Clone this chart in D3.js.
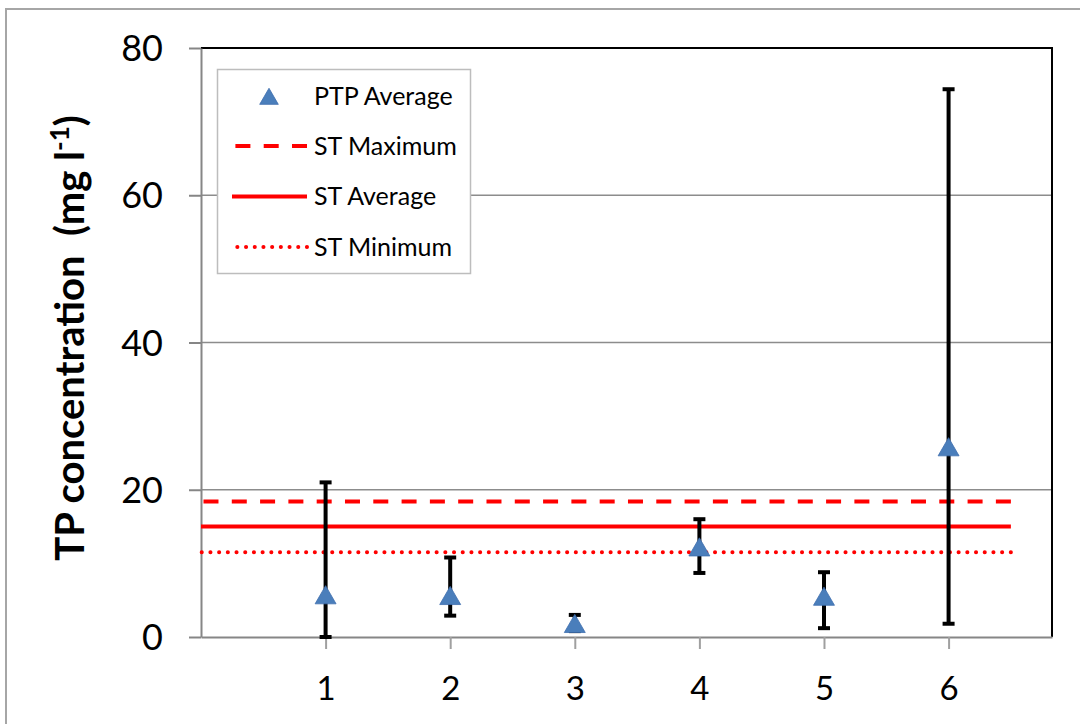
<!DOCTYPE html>
<html>
<head>
  <meta charset="utf-8">
  <title>TP concentration</title>
  <style>
    body { margin: 0; background: #fff; }
    svg text { font-family: Lato, "Open Sans", sans-serif; }
  </style>
</head>
<body>
  <svg width="1080" height="724"></svg>
  <script src="https://d3js.org/d3.v7.min.js"></script>
  <script>

  // data
  var sites = [1, 2, 3, 4, 5, 6];
  var ptpAverage = [5.6, 5.5, 1.7, 12.1, 5.4, 25.7];
  var ptpMax = [21.0, 10.8, 3.0, 16.0, 8.8, 74.4];
  var ptpMin = [0.0, 2.9, 0.8, 8.7, 1.2, 1.8];
  var stMaximum = 18.4;
  var stAverage = 15.0;
  var stMinimum = 11.5;
  var yTicks = [0, 20, 40, 60, 80];

  var svg = d3.select("svg");

  // outer chart border (runs off the right / bottom edge)
  svg.append("rect")
    .attr("x", 6).attr("y", 9)
    .attr("width", 1200).attr("height", 900)
    .attr("fill", "none")
    .attr("stroke", "#a6a6a6")
    .attr("stroke-width", 2);

  var pLeft = 201, pRight = 1052, pTop = 48, pBottom = 637;

  var x = d3.scaleLinear().domain([0, 6.83]).range([pLeft, pRight]);
  var y = d3.scaleLinear().domain([0, 80]).range([pBottom, pTop]);

  // gridlines
  svg.append("g")
    .selectAll("line")
    .data([20, 40, 60])
    .enter().append("line")
    .attr("x1", pLeft).attr("x2", pRight)
    .attr("y1", function(d) { return y(d); })
    .attr("y2", function(d) { return y(d); })
    .attr("stroke", "#8c8c8c")
    .attr("stroke-width", 1.5);

  // plot border: top and right black
  svg.append("path")
    .attr("d", "M" + pLeft + "," + pTop + "H" + pRight + "V" + pBottom)
    .attr("fill", "none")
    .attr("stroke", "#000")
    .attr("stroke-width", 2);

  // y axis
  var yAxis = svg.append("g")
    .attr("transform", "translate(" + pLeft + ",0)")
    .call(d3.axisLeft(y).tickValues(yTicks).tickSize(12).tickSizeOuter(0).tickPadding(26));
  yAxis.select(".domain").attr("stroke", "#868686").attr("stroke-width", 2);
  yAxis.selectAll(".tick line").attr("stroke", "#868686").attr("stroke-width", 2);
  yAxis.selectAll("text")
    .attr("font-size", 36)
    .attr("fill", "#000")
    .attr("dy", "0.35em")
    .style("font-family", "Lato, sans-serif");

  // x axis
  var xAxis = svg.append("g")
    .attr("transform", "translate(0," + pBottom + ")")
    .call(d3.axisBottom(x).tickValues(sites).tickFormat(d3.format("d")).tickSize(12).tickSizeOuter(0).tickPadding(28));
  xAxis.select(".domain").attr("stroke", "#868686").attr("stroke-width", 2);
  xAxis.selectAll(".tick line").attr("stroke", "#a0a0a0").attr("stroke-width", 2);
  xAxis.selectAll("text")
    .attr("font-size", 33)
    .attr("fill", "#000")
    .style("font-family", "Lato, sans-serif");

  // ST reference lines (drawn right-to-left so the dash pattern ends flush)
  var stLines = [
    { name: "ST Maximum", value: stMaximum, dash: "15,13.3", cap: "butt" },
    { name: "ST Average", value: stAverage, dash: null, cap: "butt" },
    { name: "ST Minimum", value: stMinimum, dash: "0.1,8.6", cap: "round" }
  ];
  svg.append("g")
    .selectAll("line")
    .data(stLines)
    .enter().append("line")
    .attr("x1", x(6.5)).attr("x2", x(0))
    .attr("y1", function(d) { return y(d.value); })
    .attr("y2", function(d) { return y(d.value); })
    .attr("stroke", "#ff0000")
    .attr("stroke-width", 4)
    .attr("stroke-linecap", function(d) { return d.cap; })
    .attr("stroke-dasharray", function(d) { return d.dash; });

  // error bars
  var pts = sites.map(function(s, i) {
    return { site: s, avg: ptpAverage[i], hi: ptpMax[i], lo: ptpMin[i] };
  });
  var eb = svg.append("g").selectAll("g").data(pts).enter().append("g");
  eb.append("line")
    .attr("x1", function(d) { return x(d.site); })
    .attr("x2", function(d) { return x(d.site); })
    .attr("y1", function(d) { return y(d.hi); })
    .attr("y2", function(d) { return y(d.lo); })
    .attr("stroke", "#000").attr("stroke-width", 4);
  eb.selectAll(".cap")
    .data(function(d) { return [{ s: d.site, v: d.hi }, { s: d.site, v: d.lo }]; })
    .enter().append("line")
    .attr("class", "cap")
    .attr("x1", function(d) { return x(d.s) - 6; })
    .attr("x2", function(d) { return x(d.s) + 6; })
    .attr("y1", function(d) { return y(d.v); })
    .attr("y2", function(d) { return y(d.v); })
    .attr("stroke", "#000").attr("stroke-width", 4);

  // triangle markers
  var tri = d3.symbol().type(d3.symbolTriangle).size(190);
  svg.append("g")
    .selectAll("path")
    .data(pts)
    .enter().append("path")
    .attr("d", tri)
    .attr("transform", function(d) { return "translate(" + x(d.site) + "," + (y(d.avg) + 2) + ")"; })
    .attr("fill", "#4a7ebb")
    .attr("stroke", "#3f6fae")
    .attr("stroke-width", 0.8);

  // legend
  var lg = svg.append("g");
  lg.append("rect")
    .attr("x", 217.5).attr("y", 69.5)
    .attr("width", 253).attr("height", 204)
    .attr("fill", "#fff")
    .attr("stroke", "#bdbdbd")
    .attr("stroke-width", 1.5);
  lg.append("path")
    .attr("d", d3.symbol().type(d3.symbolTriangle).size(150))
    .attr("transform", "translate(269,99)")
    .attr("fill", "#4a7ebb")
    .attr("stroke", "#3f6fae")
    .attr("stroke-width", 0.8);
  lg.append("text")
    .attr("x", 314).attr("y", 96).attr("dy", "0.35em")
    .attr("font-size", 25)
    .text("PTP Average");
  var rows = lg.selectAll(".row").data(stLines).enter().append("g")
    .attr("class", "row")
    .attr("transform", function(d, i) { return "translate(0," + (146 + i * 50.5) + ")"; });
  rows.append("line")
    .attr("x1", 307).attr("x2", 232)
    .attr("stroke", "#ff0000")
    .attr("stroke-width", 4)
    .attr("stroke-linecap", function(d) { return d.cap; })
    .attr("stroke-dasharray", function(d) { return d.dash; });
  rows.append("text")
    .attr("x", 314).attr("dy", "0.35em")
    .attr("font-size", 25)
    .text(function(d) { return d.name; });

  // y axis title
  var title = svg.append("text")
    .attr("transform", "translate(84,338) rotate(-90)")
    .attr("text-anchor", "middle")
    .attr("font-size", 40)
    .attr("font-weight", "bold");
  title.append("tspan").text("TP concentration\u00a0 (mg l");
  title.append("tspan").attr("font-size", 26).attr("dy", -15).text("-1");
  title.append("tspan").attr("dy", 15).text(")");

  </script>
</body>
</html>
